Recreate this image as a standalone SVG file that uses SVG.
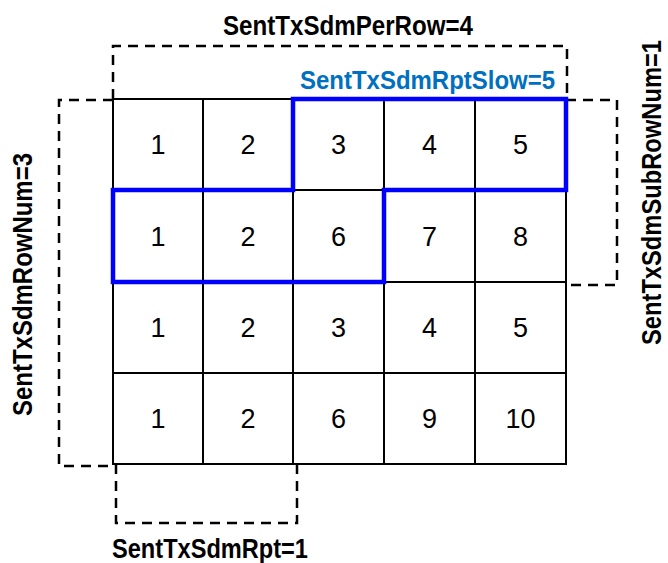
<svg xmlns="http://www.w3.org/2000/svg" width="668" height="563" viewBox="0 0 668 563">
<style>
.lbl{font-family:"Liberation Sans",Arial,sans-serif;font-weight:bold;font-size:28px;fill:#000}
.side{font-size:27px}
.blue{fill:#0070C0;font-size:25px}
.num{font-family:"Liberation Sans",Arial,sans-serif;font-size:27px;fill:#000;text-anchor:middle}
.grid{stroke:#000;stroke-width:2;fill:none}
.dash{stroke:#000;stroke-width:2.5;fill:none;stroke-dasharray:10,7}
.sel{stroke:#0000FF;stroke-width:4.5;fill:none;stroke-linejoin:miter}
</style>
<rect width="668" height="563" fill="#fff"/>
<g id="brackets">
<path class="dash" d="M113,99 V46 H567 V99"/>
<path class="dash" d="M113,100 H59 V466 H116"/>
<path class="dash" d="M116,464 V523 H297 V464"/>
<path class="dash" d="M566,100 H617 V285 H566"/>
</g>
<g id="grid">
<rect class="grid" x="113" y="99" width="453" height="365"/>
<path class="grid" d="M203,99 V464 M293,99 V464 M384,99 V464 M475,99 V464 M113,190 H566 M113,282 H566 M113,373 H566"/>
</g>
<g id="cells">
<text class="num" x="158" y="154">1</text>
<text class="num" x="248" y="154">2</text>
<text class="num" x="338.5" y="154">3</text>
<text class="num" x="429.5" y="154">4</text>
<text class="num" x="520.5" y="154">5</text>
<text class="num" x="158" y="245.5">1</text>
<text class="num" x="248" y="245.5">2</text>
<text class="num" x="338.5" y="245.5">6</text>
<text class="num" x="429.5" y="245.5">7</text>
<text class="num" x="520.5" y="245.5">8</text>
<text class="num" x="158" y="337">1</text>
<text class="num" x="248" y="337">2</text>
<text class="num" x="338.5" y="337">3</text>
<text class="num" x="429.5" y="337">4</text>
<text class="num" x="520.5" y="337">5</text>
<text class="num" x="158" y="428">1</text>
<text class="num" x="248" y="428">2</text>
<text class="num" x="338.5" y="428">6</text>
<text class="num" x="429.5" y="428">9</text>
<text class="num" x="520.5" y="428">10</text>
</g>
<g id="selection">
<path class="sel" d="M293,99 H566 V190 H384 V282 H113 V190 H293 Z"/>
</g>
<g id="labels">
<text class="lbl" x="223" y="35" textLength="250" lengthAdjust="spacingAndGlyphs">SentTxSdmPerRow=4</text>
<text class="lbl blue" x="300" y="89" textLength="255" lengthAdjust="spacingAndGlyphs">SentTxSdmRptSlow=5</text>
<text class="lbl" x="112" y="558" textLength="196" lengthAdjust="spacingAndGlyphs">SentTxSdmRpt=1</text>
<text class="lbl side" transform="translate(32,416) rotate(-90)" x="0" y="0" textLength="263" lengthAdjust="spacingAndGlyphs">SentTxSdmRowNum=3</text>
<text class="lbl side" transform="translate(661,345) rotate(-90)" x="0" y="0" textLength="305" lengthAdjust="spacingAndGlyphs">SentTxSdmSubRowNum=1</text>
</g>
</svg>
